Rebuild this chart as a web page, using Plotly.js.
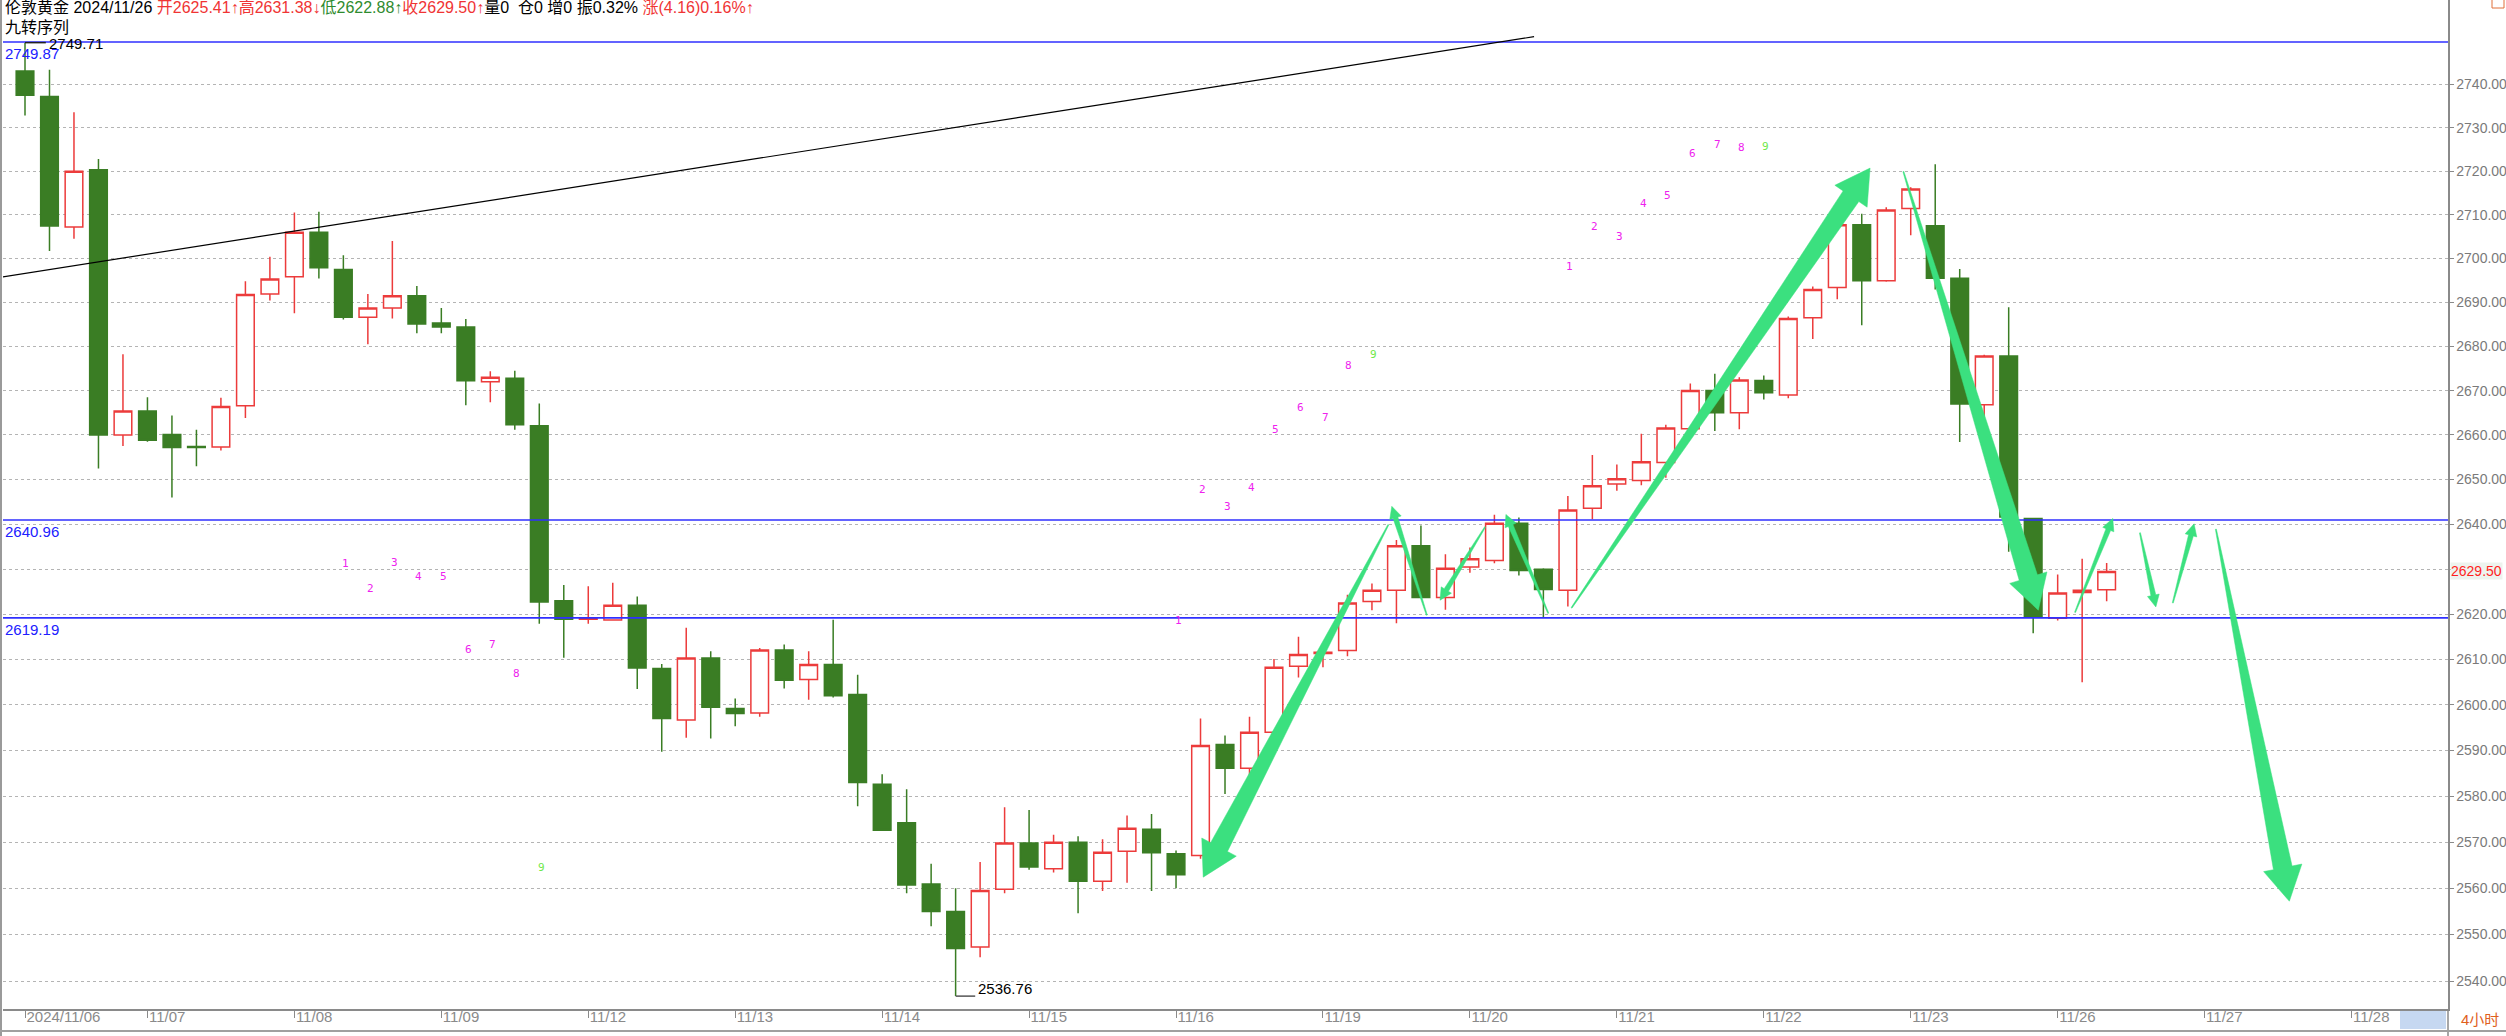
<!DOCTYPE html>
<html>
<head>
<meta charset="utf-8">
<script src="https://cdn.plot.ly/plotly-3.0.1.min.js"></script>
<style>
html,body{margin:0;padding:0;background:#fff;}
#chart{width:2506px;height:1036px;}
</style>
</head>
<body>
<div id="chart"></div>
<script>
// ---------------- data (4-hour candles, London gold) ----------------
const OPEN = [2743.1,2737.2,2707.2,2720.3,2660.0,2665.4,2660.1,2657.4,2657.3,2666.6,
  2691.9,2695.8,2706.0,2697.5,2686.6,2688.7,2691.5,2685.3,2684.4,2672.0,
  2672.8,2662.1,2623.0,2618.9,2618.7,2622.0,2608.0,2596.7,2610.3,2599.2,
  2598.2,2612.1,2605.6,2608.9,2602.3,2582.6,2574.2,2560.9,2555.0,2547.3,
  2559.8,2569.8,2564.2,2570.0,2561.5,2568.0,2572.8,2567.5,2567.1,2591.3,
  2586.1,2594.0,2608.5,2611.3,2612.0,2622.8,2625.3,2635.2,2623.7,2630.5,
  2631.9,2640.2,2630.0,2625.3,2643.6,2649.0,2649.8,2653.8,2661.4,2670.0,
  2665.0,2672.3,2669.0,2686.5,2693.4,2707.7,2694.9,2711.4,2707.5,2695.5,
  2666.8,2677.8,2641.3,2619.1,2624.8,2625.41];
const HIGH = [2749.71,2743.4,2733.6,2722.8,2678.2,2668.5,2664.4,2661.2,2668.4,2694.8,
  2700.4,2710.5,2710.7,2700.7,2691.9,2704.0,2693.7,2688.7,2686.2,2674.4,
  2674.5,2667.1,2626.5,2626.2,2627.0,2623.9,2609.0,2617.0,2611.8,2601.4,
  2612.5,2613.3,2611.8,2618.8,2606.6,2584.8,2581.5,2565.3,2560.0,2565.7,
  2577.6,2577.0,2571.6,2571.3,2570.6,2575.8,2576.1,2568.2,2597.0,2593.3,
  2597.4,2610.1,2615.0,2612.7,2624.3,2626.8,2636.5,2639.7,2633.3,2634.8,
  2642.1,2641.5,2630.2,2646.3,2655.5,2653.4,2660.3,2662.3,2671.6,2673.8,
  2673.0,2673.4,2686.8,2693.6,2707.8,2710.2,2711.7,2716.3,2721.6,2697.6,
  2678.1,2688.9,2641.3,2628.8,2632.3,2631.38];
const LOW = [2732.8,2701.7,2704.5,2652.5,2657.5,2658.5,2646.0,2653.0,2656.5,2663.8,
  2690.4,2687.5,2695.4,2686.1,2680.5,2686.3,2683.0,2683.0,2666.7,2667.4,
  2661.2,2617.9,2610.4,2617.9,2618.7,2603.5,2589.7,2592.8,2592.6,2595.3,
  2597.4,2603.6,2601.1,2601.6,2577.8,2572.4,2558.9,2551.8,2536.76,2545.1,
  2558.9,2564.0,2563.4,2554.6,2559.4,2561.2,2559.4,2560.0,2566.4,2580.5,
  2584.0,2592.0,2606.0,2608.3,2610.7,2620.9,2618.0,2623.7,2621.0,2629.2,
  2631.3,2628.6,2619.4,2621.7,2641.1,2647.5,2648.7,2650.4,2660.0,2660.9,
  2661.3,2668.0,2668.3,2681.7,2690.7,2684.8,2694.7,2705.3,2692.9,2658.4,
  2664.0,2633.9,2615.8,2618.6,2605.0,2622.88];
const CLOSE = [2737.5,2707.4,2720.0,2660.0,2665.4,2658.8,2657.2,2657.2,2666.4,2691.8,
  2695.3,2706.0,2697.9,2686.6,2688.7,2691.5,2685.1,2684.4,2672.2,2673.0,
  2662.3,2622.7,2618.9,2619.2,2622.0,2608.1,2597.0,2610.3,2599.5,2598.1,
  2612.1,2605.4,2608.9,2602.0,2583.0,2572.6,2560.7,2555.0,2547.0,2559.5,
  2569.8,2564.6,2570.0,2561.5,2567.8,2573.0,2567.7,2562.9,2591.1,2586.1,
  2594.0,2608.3,2611.1,2611.6,2622.5,2625.3,2635.2,2623.7,2630.2,2632.3,
  2640.2,2629.7,2625.5,2643.2,2648.6,2650.2,2654.0,2661.6,2670.0,2665.0,
  2672.4,2669.5,2686.3,2692.9,2707.7,2694.9,2711.1,2715.9,2695.5,2667.0,
  2677.8,2641.6,2619.5,2624.7,2625.34,2629.50];
const CANDLE_X = OPEN.map((_, i) => i);

const X_TICK_IDX  = [0,5,11,17,23,29,35,41,47,53,59,65,71,77,83,89,95];
const X_TICK_TEXT = ['2024/11/06','11/07','11/08','11/09','11/12','11/13','11/14','11/15','11/16',
                     '11/19','11/20','11/21','11/22','11/23','11/26','11/27','11/28'];
const Y_TICKS = [2540,2550,2560,2570,2580,2590,2600,2610,2620,2630,2640,2650,2660,2670,2680,2690,2700,2710,2720,2730,2740];
const LAST_PRICE = 2629.50;

const H_LEVELS = [2749.87, 2640.96, 2619.19];
const PERIOD_HIGH = {idx: 0, value: 2749.71};
const PERIOD_LOW  = {idx: 38, value: 2536.76};

// trend line (idx, price)
const TREND_X = [-1.02, 61.62];
const TREND_Y = [2695.7, 2751.1];

// nine-turn sequence labels
const SEQ_TEXT  = ['1','2','3','4','5','6','7','8','9', '1','2','3','4','5','6','7','8','9', '1','2','3','4','5','6','7','8','9'];
const SEQ_IDX   = [13.09,14.1,15.07,16.07,17.08,18.1,19.1,20.08,21.1,
                   47.09,48.09,49.1,50.09,51.08,52.09,53.1,54.06,55.08,
                   63.06,64.08,65.09,66.1,67.07,68.08,69.1,70.1,71.09];
const SEQ_PRICE = [2631.3,2625.8,2631.5,2628.3,2628.3,2612.3,2613.2,2606.8,2564.5,
                   2618.5,2647.8,2644.0,2648.2,2661.2,2666.2,2664.0,2675.7,2678.2,
                   2698.1,2707.4,2705.0,2712.6,2714.3,2724.0,2726.1,2725.5,2725.7];

// hand-drawn arrows: tail (idx, price) -> tip (idx, price)
const ARROW_TAIL_X = [55.67,57.24,59.62,62.20,63.15,76.70,83.71,86.36,87.70,89.46];
const ARROW_TAIL_Y = [2639.9,2619.8,2639.4,2620.2,2621.4,2719.9,2620.4,2638.1,2622.5,2638.9];
const ARROW_TIP_X  = [48.11,55.81,57.78,60.47,75.34,82.21,85.25,87.01,88.57,92.46];
const ARROW_TIP_Y  = [2562.4,2644.0,2623.1,2642.2,2720.7,2620.9,2641.3,2621.6,2640.1,2557.2];
const ARROW_BIG    = [true,false,false,false,true,true,false,false,false,true];

// ---------------- geometry ----------------
const W = 2506, H = 1036;
const ML = 3, MR = 58, MT = 0, MB = 27;
const PW = W - ML - MR, PH = H - MT - MB;
const STEP = 24.49, C0 = 25;
const XMIN = (ML - C0) / STEP, XMAX = (ML + PW - C0) / STEP;
const YMIN = 2534.0, YMAX = 2759.64;
const LY0 = Math.log10(YMIN), LY1 = Math.log10(YMAX);

function xToPx(v){ return ML + (v - XMIN) / (XMAX - XMIN) * PW; }
function yToPx(v){ return MT + (LY1 - Math.log10(v)) / (LY1 - LY0) * PH; }
function pxToX(p){ return XMIN + (p - ML) / PW * (XMAX - XMIN); }
function pxToY(p){ return Math.pow(10, LY1 - (p - MT) / PH * (LY1 - LY0)); }

const GREEN_ARROW = '#3be07f';
function arrowTrace(k){
  const tx = xToPx(ARROW_TAIL_X[k]), ty = yToPx(ARROW_TAIL_Y[k]);
  const px = xToPx(ARROW_TIP_X[k]),  py = yToPx(ARROW_TIP_Y[k]);
  const big = ARROW_BIG[k];
  const shaft = big ? 19 : 5, headLen = big ? 34 : 12, headHalf = big ? 19.5 : 6, tailW = 1;
  const dx = px - tx, dy = py - ty, len = Math.hypot(dx, dy);
  const ux = dx/len, uy = dy/len, nx = -uy, ny = ux;
  const bx = px - ux*headLen, by = py - uy*headLen;
  const pts = [
    [tx + nx*tailW/2, ty + ny*tailW/2],
    [bx + nx*shaft/2, by + ny*shaft/2],
    [bx + nx*headHalf, by + ny*headHalf],
    [px, py],
    [bx - nx*headHalf, by - ny*headHalf],
    [bx - nx*shaft/2, by - ny*shaft/2],
    [tx - nx*tailW/2, ty - ny*tailW/2]
  ];
  pts.push(pts[0]);
  return {
    type:'scatter', mode:'lines', fill:'toself', fillcolor:GREEN_ARROW,
    line:{color:GREEN_ARROW, width:0.5},
    x: pts.map(p => pxToX(p[0])), y: pts.map(p => pxToY(p[1])),
    hoverinfo:'skip', showlegend:false
  };
}

const RED = '#ec3b3b', GREEN = '#3a7d24', BLUE = '#2f2fff';

const traces = [];
traces.push({
  type:'candlestick', x: CANDLE_X, open: OPEN, high: HIGH, low: LOW, close: CLOSE,
  increasing:{line:{color:RED, width:1.5}, fillcolor:'#ffffff'},
  decreasing:{line:{color:GREEN, width:1.5}, fillcolor:GREEN},
  whiskerwidth:0, hoverinfo:'skip', showlegend:false
});
H_LEVELS.forEach(v => traces.push({
  type:'scatter', mode:'lines', x:[XMIN - 1, XMAX + 1], y:[v, v],
  line:{color:BLUE, width:1.6}, hoverinfo:'skip', showlegend:false
}));
traces.push({
  type:'scatter', mode:'lines', x: TREND_X, y: TREND_Y,
  line:{color:'#000000', width:1.2}, hoverinfo:'skip', showlegend:false
});
// high / low marker dashes
traces.push({type:'scatter', mode:'lines', x:[PERIOD_HIGH.idx, PERIOD_HIGH.idx + 0.85], y:[PERIOD_HIGH.value, PERIOD_HIGH.value],
  line:{color:'#222', width:1.5}, hoverinfo:'skip', showlegend:false});
traces.push({type:'scatter', mode:'lines', x:[PERIOD_LOW.idx, PERIOD_LOW.idx + 0.8], y:[PERIOD_LOW.value, PERIOD_LOW.value],
  line:{color:'#555', width:1.5}, hoverinfo:'skip', showlegend:false});
for (let k = 0; k < ARROW_TAIL_X.length; k++) traces.push(arrowTrace(k));

// ---------------- annotations ----------------
const ann = [];
const HDR_FONT = 'Liberation Sans, Noto Sans CJK SC, sans-serif';
ann.push({
  xref:'paper', yref:'paper', x:(3-ML)/PW, y:1 - (8-MT)/PH, xanchor:'left', yanchor:'middle', showarrow:false,
  font:{family:HDR_FONT, size:16, color:'#000'},
  text:'伦敦黄金 2024/11/26 <span style="color:#f03434">开2625.41↑高2631.38↓</span><span style="color:#2e8b2e">低2622.88↑</span><span style="color:#f03434">收2629.50↑</span>量0  仓0 增0 振0.32% <span style="color:#f03434">涨(4.16)0.16%↑</span>'
});
ann.push({
  xref:'paper', yref:'paper', x:(3-ML)/PW, y:1 - (27-MT)/PH, xanchor:'left', yanchor:'middle', showarrow:false,
  font:{family:HDR_FONT, size:16, color:'#000'}, text:'九转序列'
});
H_LEVELS.forEach((v, i) => ann.push({
  xref:'paper', yref:'y', x:0, y:Math.log10(v), xanchor:'left', yanchor:'top', yshift:-1, showarrow:false,
  font:{family:'Liberation Sans, sans-serif', size:15, color:'#2020ff'}, text:v.toFixed(2)
}));
ann.push({
  xref:'x', yref:'y', x:PERIOD_HIGH.idx + 0.9, y:Math.log10(PERIOD_HIGH.value), xanchor:'left', yanchor:'middle', yshift:-1,
  showarrow:false, font:{family:'Liberation Sans, sans-serif', size:15, color:'#000'}, text:PERIOD_HIGH.value.toFixed(2)
});
ann.push({
  xref:'x', yref:'y', x:PERIOD_LOW.idx + 0.85, y:Math.log10(PERIOD_LOW.value), xanchor:'left', yanchor:'middle', yshift:8,
  showarrow:false, font:{family:'Liberation Sans, sans-serif', size:15, color:'#000'}, text:PERIOD_LOW.value.toFixed(2)
});
SEQ_TEXT.forEach((t, i) => ann.push({
  xref:'x', yref:'y', x:SEQ_IDX[i], y:Math.log10(SEQ_PRICE[i]), xanchor:'center', yanchor:'middle', showarrow:false,
  font:{family:'DejaVu Sans Mono, monospace', size:11, color: t === '9' ? '#6ee84a' : '#ee22ee'}, text:t
}));
ann.push({
  xref:'paper', yref:'y', x:1, y:Math.log10(LAST_PRICE), xanchor:'left', yanchor:'middle', xshift:2, showarrow:false,
  bgcolor:'#edf3ee', borderpad:0,
  font:{family:'Liberation Sans, sans-serif', size:14, color:'#ff1f1f'}, text:LAST_PRICE.toFixed(2)
});
ann.push({
  xref:'paper', yref:'paper', x:(2459-ML)/PW, y:-(1020 - (MT+PH)) / PH, xanchor:'left', yanchor:'middle', showarrow:false,
  font:{family:HDR_FONT, size:15, color:'#e0601c'}, text:'4小时'
});

// ---------------- shapes ----------------
const shapes = [
  // left border
  {type:'line', xref:'paper', yref:'paper', x0:(1-ML)/PW, x1:(1-ML)/PW, y0:-MB/PH, y1:1, line:{color:'#9a9a9a', width:2}},
  // y axis line continued through date strip
  {type:'line', xref:'paper', yref:'paper', x0:1, x1:1, y0:-(MB+2)/PH, y1:0, line:{color:'#8a8a8a', width:1.5}},
  // bottom line of date strip
  {type:'line', xref:'paper', yref:'paper', x0:-ML/PW, x1:(W-ML)/PW, y0:-(1031-MT-PH)/PH, y1:-(1031-MT-PH)/PH, line:{color:'#a0a0a0', width:2}},
  // light blue box in date strip
  {type:'rect', xref:'paper', yref:'paper', x0:(2400-ML)/PW, x1:(2446-ML)/PW, y0:-(1029-PH)/PH, y1:-(1011-PH)/PH,
   fillcolor:'#c6d8f1', line:{width:0}},
  // small orange square, top right
  {type:'rect', xref:'paper', yref:'paper', x0:(2492-ML)/PW, x1:(2504-ML)/PW, y0:1-8/PH, y1:1+4/PH,
   fillcolor:'#ffffff', line:{color:'#e0703a', width:1}}
];

const yText = Y_TICKS.map(v => v === 2630 ? '' : v.toFixed(2));

const layout = {
  width:W, height:H,
  margin:{l:ML, r:MR, t:MT, b:MB, pad:0},
  paper_bgcolor:'#ffffff', plot_bgcolor:'#ffffff',
  showlegend:false,
  boxgap:0.28, boxgroupgap:0,
  xaxis:{
    type:'linear', range:[XMIN, XMAX], fixedrange:true,
    tickmode:'array', tickvals:X_TICK_IDX, ticktext:X_TICK_TEXT,
    ticks:'outside', ticklen:7, tickwidth:1, tickcolor:'#8a8a8a',
    ticklabelposition:'outside right', ticklabelstandoff:-7,
    tickfont:{family:'Liberation Sans, sans-serif', size:15, color:'#8a8a8a'},
    showgrid:false, zeroline:false, showline:true, linecolor:'#8a8a8a', linewidth:2,
    rangeslider:{visible:false}, automargin:false
  },
  yaxis:{
    type:'log', range:[LY0, LY1], side:'right', fixedrange:true,
    tickmode:'array', tickvals:Y_TICKS, ticktext:yText,
    ticks:'outside', ticklen:4, tickwidth:1, tickcolor:'#8a8a8a',
    tickfont:{family:'Liberation Sans, sans-serif', size:14, color:'#7a7a7a'},
    showgrid:true, gridcolor:'#b4b4b4', griddash:'dot', gridwidth:1,
    zeroline:false, showline:true, linecolor:'#8a8a8a', linewidth:1.5, automargin:false
  },
  annotations:ann,
  shapes:shapes
};

Plotly.newPlot('chart', traces, layout, {staticPlot:true, displayModeBar:false});
</script>
</body>
</html>
